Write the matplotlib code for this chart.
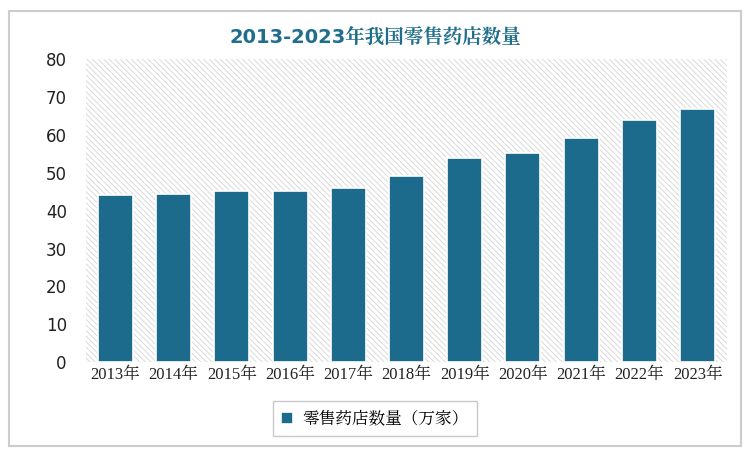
import matplotlib.pyplot as plt
from matplotlib import font_manager
from matplotlib.patches import FancyBboxPatch

cjk = [f.name for f in font_manager.fontManager.ttflist if 'CJK' in f.name]
cjk_name = cjk[0] if cjk else 'Noto Sans CJK SC'
for n in cjk:
    if 'SC' in n:
        cjk_name = n
        break
plt.rcParams['font.family'] = ['DejaVu Sans', cjk_name]
plt.rcParams['hatch.color'] = '#d4d4d4'
plt.rcParams['hatch.linewidth'] = 0.6

years = ['2013年', '2014年', '2015年', '2016年', '2017年', '2018年',
         '2019年', '2020年', '2021年', '2022年', '2023年']
stores = [44.1, 44.5, 45.1, 45.1, 46.0, 49.1, 54.0, 55.2, 59.1, 64.0, 66.9]

fig = plt.figure(figsize=(7.5, 4.55), dpi=100)
fig.patches.append(FancyBboxPatch((0.012, 0.02), 0.976, 0.955, boxstyle='square,pad=0',
                                  transform=fig.transFigure, facecolor='white',
                                  edgecolor='#cccccc', linewidth=1.5, zorder=-5))
ax = fig.add_axes([0.115, 0.204, 0.854, 0.666])
ax.patch.set_alpha(0)
ax.add_patch(plt.Rectangle((0, 0), 1, 1, transform=ax.transAxes, facecolor='white',
                           hatch='\\\\\\\\\\\\', edgecolor='#d4d4d4', linewidth=0, zorder=0))
ax.bar(years, stores, width=0.6, color='#1c6a8c', edgecolor='white', linewidth=1.2,
       zorder=2, label='零售药店数量（万家）')
ax.set_ylim(0, 80)
ax.set_xlim(-0.5, 10.5)
ax.set_yticks(range(0, 81, 10))
for s in ax.spines.values():
    s.set_visible(False)
ax.tick_params(length=0, labelsize=12, colors='#222222')
ax.tick_params(axis='y', pad=14)
for lab in ax.get_xticklabels():
    lab.set_fontfamily(['Liberation Serif', cjk_name])
fig.text(0.5, 0.918, '2013-2023年我国零售药店数量', ha='center', va='center',
         fontsize=14, fontweight='bold', color='#1f6e8c')
leg = fig.legend(loc='center', bbox_to_anchor=(0.5, 0.08), fontsize=12, frameon=True,
                 fancybox=False, edgecolor='#bbbbbb', handlelength=0.7, handleheight=0.7,
                 borderpad=0.5, handletextpad=0.6, borderaxespad=0)
leg.get_frame().set_width(228)
fig.savefig('out.png')
